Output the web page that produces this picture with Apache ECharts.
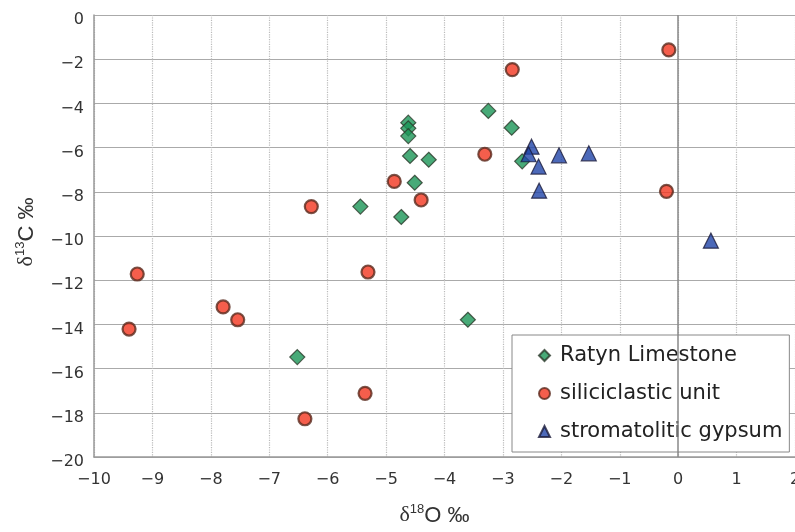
<!DOCTYPE html>
<html><head><meta charset="utf-8">
<script src="https://cdn.jsdelivr.net/npm/echarts@6/dist/echarts.min.js"></script>
<style>html,body{margin:0;padding:0;background:#fff}#c{width:795px;height:532px}</style>
</head><body><div id="c"></div>
<script>
const seriesNames = ['Ratyn Limestone', 'siliciclastic unit', 'stromatolitic gypsum'];
const ratynLimestone = [
  [-4.62,-4.87],[-4.62,-5.13],[-4.62,-5.48],[-4.59,-6.38],[-4.27,-6.55],[-4.51,-7.59],
  [-4.74,-9.14],[-5.44,-8.67],[-3.25,-4.34],[-2.85,-5.10],[-2.67,-6.62],[-6.52,-15.48],[-3.60,-13.79]
];
const siliciclasticUnit = [
  [-0.16,-1.58],[-2.84,-2.47],[-3.31,-6.30],[-4.86,-7.53],[-4.40,-8.37],[-0.20,-7.98],
  [-6.28,-8.67],[-5.31,-11.63],[-9.26,-11.72],[-9.40,-14.21],[-7.79,-13.21],[-7.54,-13.79],
  [-6.39,-18.27],[-5.36,-17.12]
];
const stromatoliticGypsum = [
  [-2.51,-5.96],[-2.56,-6.30],[-2.39,-6.86],[-2.38,-7.95],[-2.04,-6.35],[-1.53,-6.26],[0.56,-10.21]
];
const fmt = v => String(v).replace('-', '\u2212');
const chart = echarts.init(document.getElementById('c'));
const FONT = 'DejaVu Sans, sans-serif';
const tick = {color:'#333', fontSize:16, fontFamily:FONT};
const titleRich = {
  d:{fontFamily:'Liberation Serif, serif', fontSize:22, color:'#333'},
  s:{fontFamily:'Liberation Sans, sans-serif', fontSize:13, color:'#333', verticalAlign:'top', padding:[0,0,12,0]},
  t:{fontFamily:'Liberation Sans, sans-serif', fontSize:22, color:'#333'}
};
chart.setOption({
  animation:false,
  backgroundColor:'#fff',
  grid:{left:94, top:15, right:0, bottom:75, outerBoundsMode:'none', containLabel:false},
  xAxis:{
    type:'value', min:-10, max:2, interval:1,
    axisLine:{show:true, onZero:false, lineStyle:{color:'#999', width:1.5}},
    axisTick:{show:false},
    axisLabel:Object.assign({formatter:fmt, margin:15}, tick),
    splitLine:{show:true, lineStyle:{color:'#bbb', type:'dotted', width:1.2}},
    name:'{d|δ}{s|18}{t|O ‰}', nameLocation:'middle', nameGap:46,
    nameTextStyle:{rich:titleRich, padding:[0,20,0,0]}
  },
  yAxis:{
    type:'value', min:-20, max:0, interval:2,
    axisLine:{show:true, onZero:false, lineStyle:{color:'#999', width:1.5}},
    axisTick:{show:false},
    axisLabel:{
      formatter:v => '{a|' + fmt(v) + '}', margin:10,
      rich:{a:Object.assign({padding:[10,0,0,0]}, tick)}
    },
    splitLine:{show:true, lineStyle:{color:'#aaa', type:'solid', width:1}},
    name:'{d|δ}{s|13}{t|C ‰}', nameLocation:'middle', nameGap:55, nameRotate:90,
    nameTextStyle:{rich:titleRich, padding:[0,0,0,8]}
  },
  legend:{
    orient:'vertical', left:512, top:335,
    padding:[10,7,10,26], itemGap:17,
    borderColor:'#888', borderWidth:1, backgroundColor:'#fff',
    itemWidth:11, itemHeight:11,
    textStyle:{fontSize:21, color:'#222', fontFamily:FONT, padding:[0,0,0,5]},
    data:seriesNames
  },
  series:[
    {name:seriesNames[0], type:'scatter', symbol:'diamond', symbolSize:15, data:ratynLimestone,
     itemStyle:{color:'#1a9556', borderColor:'#2a3a2a', borderWidth:1.2},
     markLine:{silent:true, symbol:'none', label:{show:false}, lineStyle:{color:'#888', type:'solid', width:1.5}, data:[{xAxis:0}]}},
    {name:seriesNames[1], type:'scatter', symbol:'circle', symbolSize:13, data:siliciclasticUnit,
     itemStyle:{color:'#f2361f', borderColor:'#5a2a1e', borderWidth:2.2}},
    {name:seriesNames[2], type:'scatter', symbol:'triangle', symbolSize:15, data:stromatoliticGypsum,
     itemStyle:{color:'#1f44a8', borderColor:'#1a1a3a', borderWidth:1.2}}
  ]
});
</script></body></html>
